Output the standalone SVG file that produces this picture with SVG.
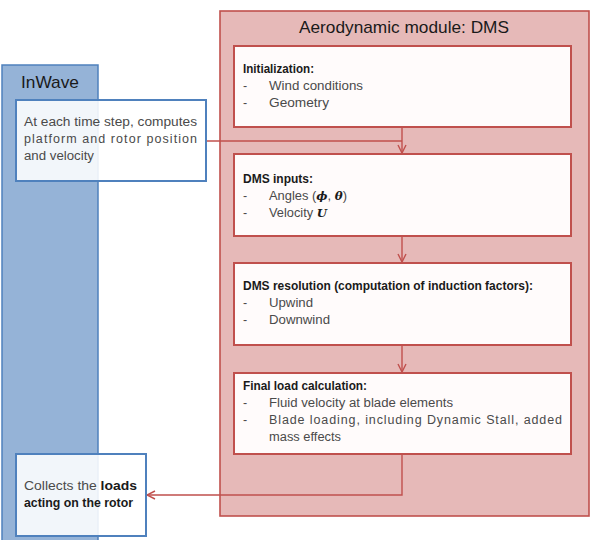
<svg xmlns="http://www.w3.org/2000/svg" width="593" height="540" viewBox="0 0 593 540">
<defs>
<marker id="arr" viewBox="0 0 10 10" refX="9" refY="5" markerWidth="10" markerHeight="10" markerUnits="userSpaceOnUse" orient="auto">
<path d="M1,1 L9,5 L1,9" fill="none" stroke="#c0504d" stroke-width="1.4"/>
</marker>
<style>
text{font-family:"Liberation Sans",Arial,sans-serif;font-size:12.5px;fill:#4a4a4a}
.b{font-weight:bold;fill:#1a1a1a}
.h{font-size:17px;fill:#1a1a1a}
.m{font-family:"DejaVu Serif","Liberation Serif",serif;font-style:italic;font-weight:bold;font-size:11.5px;fill:#1a1a1a}
.ib{fill:#ffffff;fill-opacity:0.88;stroke:#4f81bd;stroke-width:2}
.rb{fill:#fffbfb;stroke:#c0504d;stroke-width:2}
.c{fill:none;stroke:#c0504d;stroke-width:1.4}
</style>
</defs>
<rect width="593" height="540" fill="#ffffff"/>
<g id="inwave">
<rect x="2" y="65" width="96" height="480" fill="#95b3d7" stroke="#4f81bd" stroke-width="1.5"/>
<text x="21" y="88" class="h" textLength="58" lengthAdjust="spacingAndGlyphs">InWave</text>
</g>
<g id="dms">
<rect x="220" y="11" width="369" height="505" fill="#e6b9b8" stroke="#c0504d" stroke-width="1.6"/>
<text x="299" y="33" class="h" textLength="210" lengthAdjust="spacingAndGlyphs">Aerodynamic module: DMS</text>
</g>
<g id="connectors">
<polyline class="c" points="206,141 402,141"/>
<polyline class="c" points="402,127 402,153" marker-end="url(#arr)"/>
<polyline class="c" points="402,236 402,262" marker-end="url(#arr)"/>
<polyline class="c" points="402,345 402,372" marker-end="url(#arr)"/>
<polyline class="c" points="402,454 402,495 147,495" marker-end="url(#arr)"/>
</g>
<g id="inwave-compute">
<rect class="ib" x="16" y="100" width="190" height="81"/>
<text x="24" y="126" textLength="173" lengthAdjust="spacingAndGlyphs">At each time step, computes</text>
<text x="24" y="143" textLength="173" lengthAdjust="spacing">platform and rotor position</text>
<text x="24" y="160" textLength="70" lengthAdjust="spacingAndGlyphs">and velocity</text>
</g>
<g id="inwave-collect">
<rect class="ib" x="16" y="454" width="130" height="82"/>
<text x="24" y="490" textLength="113" lengthAdjust="spacingAndGlyphs">Collects the <tspan class="b">loads</tspan></text>
<text x="24" y="507" class="b" textLength="109" lengthAdjust="spacingAndGlyphs">acting on the rotor</text>
</g>
<g id="init">
<rect class="rb" x="234" y="46" width="337" height="81"/>
<text x="243" y="73" class="b" textLength="71" lengthAdjust="spacingAndGlyphs">Initialization:</text>
<text x="243" y="90">-</text><text x="269" y="90" textLength="94" lengthAdjust="spacingAndGlyphs">Wind conditions</text>
<text x="243" y="107">-</text><text x="269" y="107" textLength="60" lengthAdjust="spacingAndGlyphs">Geometry</text>
</g>
<g id="inputs">
<rect class="rb" x="234" y="154" width="337" height="82"/>
<text x="243" y="183" class="b" textLength="70" lengthAdjust="spacingAndGlyphs">DMS inputs:</text>
<text x="243" y="200">-</text><text x="269" y="200" textLength="78" lengthAdjust="spacingAndGlyphs">Angles (<tspan class="m">ϕ</tspan>, <tspan class="m">θ</tspan>)</text>
<text x="243" y="217">-</text><text x="269" y="217" textLength="58" lengthAdjust="spacingAndGlyphs">Velocity <tspan class="m">U</tspan></text>
</g>
<g id="resolution">
<rect class="rb" x="234" y="263" width="337" height="82"/>
<text x="243" y="290" class="b" textLength="290" lengthAdjust="spacingAndGlyphs">DMS resolution (computation of induction factors):</text>
<text x="243" y="307">-</text><text x="269" y="307" textLength="44" lengthAdjust="spacingAndGlyphs">Upwind</text>
<text x="243" y="324">-</text><text x="269" y="324" textLength="61" lengthAdjust="spacingAndGlyphs">Downwind</text>
</g>
<g id="final">
<rect class="rb" x="234" y="373" width="337" height="81"/>
<text x="243" y="390" class="b" textLength="124" lengthAdjust="spacingAndGlyphs">Final load calculation:</text>
<text x="243" y="407">-</text><text x="269" y="407" textLength="184" lengthAdjust="spacingAndGlyphs">Fluid velocity at blade elements</text>
<text x="243" y="424">-</text><text x="269" y="424" textLength="293" lengthAdjust="spacing">Blade loading, including Dynamic Stall, added</text>
<text x="269" y="441" textLength="72" lengthAdjust="spacingAndGlyphs">mass effects</text>
</g>
</svg>
